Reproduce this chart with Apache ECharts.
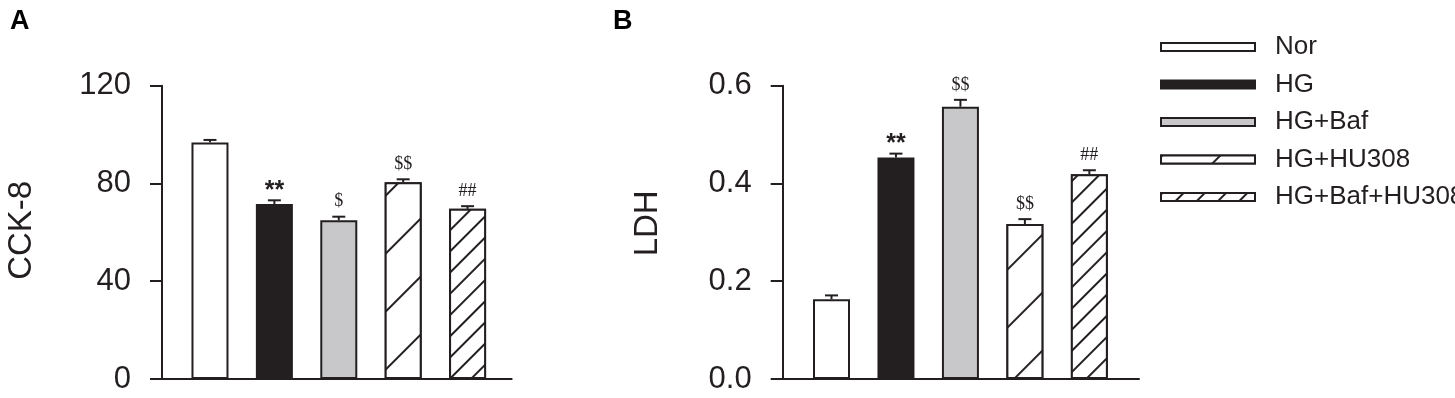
<!DOCTYPE html>
<html>
<head>
<meta charset="utf-8">
<script src="https://cdn.jsdelivr.net/npm/echarts@6/dist/echarts.min.js"></script>
<style>
  html, body { margin: 0; padding: 0; background: #fff; }
  #chart { width: 1455px; height: 398px; }
</style>
</head>
<body>
<div id="chart"></div>
<script>
// groups and values
const groups = ["Nor", "HG", "HG+Baf", "HG+HU308", "HG+Baf+HU308"];

const cckMean = [96.8, 71.6, 64.9, 80.5, 69.6];
const cckErr = [1.0, 1.5, 1.5, 1.2, 1.1];
const cckMarks = ["", "**", "$", "$$", "##"];
const cckTicks = [0, 40, 80, 120];

const ldhMean = [0.163, 0.453, 0.557, 0.317, 0.419];
const ldhErr = [0.008, 0.008, 0.014, 0.010, 0.008];
const ldhMarks = ["", "**", "$$", "$$", "##"];
const ldhTicks = [0, 0.2, 0.4, 0.6];

const ink = "#231f20";
const font = "Liberation Sans, Arial, sans-serif";

const hatch = (gap) => ({
  symbol: "rect",
  symbolSize: 1,
  dashArrayX: [1, 0],
  dashArrayY: [2, gap],
  rotation: -Math.PI / 4,
  color: ink,
  backgroundColor: "#fff",
});

const groupStyles = [
  { color: "#fff" },
  { color: ink },
  { color: "#c8c8ca" },
  { color: "#fff", decal: hatch(39) },
  { color: "#fff", decal: hatch(13) },
];

const chart = echarts.init(document.getElementById("chart"));

const barSeries = (means, gridIdx) =>
  groups.map((name, i) => ({
    name: name,
    type: "bar",
    xAxisIndex: gridIdx,
    yAxisIndex: gridIdx,
    data: [[i, means[i]]],
    barWidth: 37,
    barGap: "-100%",
    itemStyle: Object.assign({ borderColor: ink, borderWidth: 2 }, groupStyles[i]),
    emphasis: { disabled: true },
    z: 2,
  }));

const errSeries = (means, errs, marks, gridIdx) => ({
  type: "custom",
  xAxisIndex: gridIdx,
  yAxisIndex: gridIdx,
  z: 5,
  silent: true,
  data: means.map((m, i) => [i, m, errs[i]]),
  renderItem: (params, api) => {
    const x = api.value(0);
    const v = api.value(1);
    const e = api.value(2);
    const top = api.coord([x, v]);
    const cap = api.coord([x, v + e]);
    const mark = marks[params.dataIndex];
    const star = mark.indexOf("*") >= 0;
    const children = [
      { type: "line", shape: { x1: top[0], y1: top[1], x2: cap[0], y2: cap[1] }, style: { stroke: ink, lineWidth: 2 } },
      { type: "line", shape: { x1: cap[0] - 6.5, y1: cap[1], x2: cap[0] + 6.5, y2: cap[1] }, style: { stroke: ink, lineWidth: 2 } },
    ];
    if (mark) {
      children.push({
        type: "text",
        style: {
          text: mark,
          x: cap[0],
          y: star ? cap[1] + 3 : cap[1] - 6,
          align: "center",
          verticalAlign: "bottom",
          font: star ? "bold 25px " + font : "18px Liberation Serif, Times New Roman, serif",
          fill: ink,
        },
      });
    }
    return { type: "group", children: children };
  },
});

const yAxis = (name, ticks, dec, gridIdx, gap, pad) => ({
  type: "value",
  gridIndex: gridIdx,
  min: ticks[0],
  max: ticks[ticks.length - 1],
  interval: ticks[1] - ticks[0],
  name: name,
  nameLocation: "middle",
  nameRotate: 90,
  nameGap: gap,
  nameTextStyle: { fontFamily: font, fontSize: 33, color: ink, padding: pad },
  axisLine: { show: true, onZero: false, lineStyle: { color: ink, width: 2 } },
  axisTick: { show: true, length: 12, lineStyle: { color: ink, width: 2 } },
  axisLabel: {
    fontFamily: font,
    fontSize: 31,
    color: ink,
    margin: 31,
    formatter: (v) => v.toFixed(dec),
  },
  splitLine: { show: false },
});

const xAxis = (gridIdx, min, max) => ({
  type: "value",
  gridIndex: gridIdx,
  min: min,
  max: max,
  axisLine: { show: true, onZero: false, lineStyle: { color: ink, width: 2 } },
  axisTick: { show: false },
  axisLabel: { show: false },
  splitLine: { show: false },
});

const option = {
  animation: false,
  title: [
    { text: "A", left: 5, top: 3, textStyle: { fontFamily: font, fontSize: 27, fontWeight: "bold", color: "#000" } },
    { text: "B", left: 608, top: 3, textStyle: { fontFamily: font, fontSize: 27, fontWeight: "bold", color: "#000" } },
  ],
  legend: {
    data: groups,
    orient: "vertical",
    left: 1155,
    top: 29,
    itemWidth: 94,
    itemHeight: 8,
    itemGap: 11.5,
    icon: "rect",
    selectedMode: false,
    textStyle: { fontFamily: font, fontSize: 26, color: ink, lineHeight: 24, padding: [0, 0, 0, 15] },
  },
  grid: [
    { left: 162, top: 85.67, width: 349.7, height: 293.33 },
    { left: 782.7, top: 85.67, width: 356.3, height: 293.33 },
  ],
  xAxis: [xAxis(0, -0.745, 4.685), xAxis(1, -0.757, 4.77)],
  yAxis: [
    yAxis("CCK-8", cckTicks, 0, 0, 124, [0, 0, 0, 4]),
    yAxis("LDH", ldhTicks, 1, 1, 118, [0, 0, 0, 18]),
  ],
  series: [
    ...barSeries(cckMean, 0),
    errSeries(cckMean, cckErr, cckMarks, 0),
    ...barSeries(ldhMean, 1),
    errSeries(ldhMean, ldhErr, ldhMarks, 1),
  ],
};

chart.setOption(option);
window.addEventListener("resize", () => chart.resize());
</script>
</body>
</html>
